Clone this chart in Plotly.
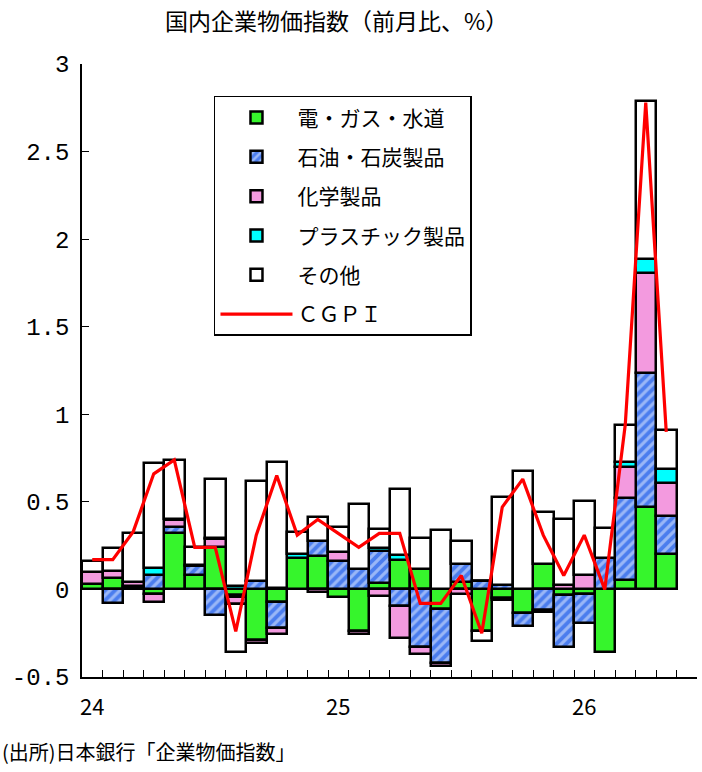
import plotly.graph_objects as go

months = [f"{y}-{m:02d}" for y in (2024, 2025, 2026) for m in range(1, 13)][:30]
tick_text = ["24" if m == "2024-01" else "25" if m == "2025-01" else "26" if m == "2026-01" else "" for m in months]

electric = [0.03, 0.065, 0.01, -0.025, 0.32, 0.08, 0.245, -0.03, -0.29, -0.07,
            0.177, 0.19, -0.045, -0.24, 0.034, 0.168, 0.118, -0.11, 0.04, -0.24,
            -0.05, -0.135, 0.145, -0.03, -0.025, -0.355, 0.054, 0.47, 0.204]
petroleum = [0.0, -0.08, 0.01, 0.085, 0.035, 0.055, -0.145, -0.015, 0.05, -0.15,
             0.0, 0.085, 0.16, 0.116, 0.186, -0.095, -0.33, -0.31, 0.107, 0.05,
             0.025, -0.075, -0.115, -0.30, -0.165, 0.18, 0.466, 0.765, 0.214]
chemical = [0.07, 0.04, 0.02, -0.045, 0.04, 0.005, 0.045, -0.04, -0.015, -0.035,
            0.0, -0.015, 0.055, -0.015, -0.035, -0.18, -0.04, -0.02, -0.025, 0.0,
            -0.01, 0.0, -0.015, 0.027, 0.084, 0.0, 0.177, 0.57, 0.188]
plastic = [0.0, 0.0, 0.005, 0.035, 0.01, 0.0, 0.005, 0.02, 0.0, 0.01,
           0.027, 0.0, 0.0, 0.0, 0.015, 0.03, 0.0, 0.0, 0.0, 0.0,
           0.0, 0.0, 0.0, 0.0, 0.0, 0.0, 0.029, 0.081, 0.084]
others = [0.06, 0.13, 0.28, 0.60, 0.335, 0.10, 0.335, -0.27, 0.57, 0.715,
          0.122, 0.14, 0.143, 0.37, 0.11, 0.378, 0.176, 0.338, 0.128, -0.055,
          0.505, 0.675, 0.295, 0.376, 0.42, 0.17, 0.214, 0.904, 0.218]
cgpi = [0.17, 0.17, 0.33, 0.66, 0.74, 0.24, 0.24, -0.24, 0.31, 0.65,
        0.31, 0.40, 0.32, 0.24, 0.32, 0.32, -0.08, -0.08, 0.08, -0.25,
        0.47, 0.63, 0.31, 0.08, 0.31, 0.0, 0.94, 2.78, 0.90]

names = ["電・ガス・水道", "石油・石炭製品", "化学製品", "プラスチック製品", "その他", "ＣＧＰＩ"]
x = months[:len(cgpi)]

CJK = "Noto Sans CJK JP"
fig = go.Figure()
line = dict(color="black", width=2.5)
fig.add_bar(x=x, y=electric, name=names[0], legendgroup="a", marker=dict(color="#36F52C", line=line))
fig.add_bar(x=x, y=petroleum, name=names[1], legendgroup="b",
            marker=dict(color="#4B7DEE", line=line,
                        pattern=dict(shape="/", bgcolor="#4B7DEE", fgcolor="#EAF1FF", size=7, solidity=0.45)))
fig.add_bar(x=x, y=chemical, name=names[2], legendgroup="c", marker=dict(color="#F39ADF", line=line))
fig.add_bar(x=x, y=plastic, name=names[3], legendgroup="d", marker=dict(color="#00FFFF", line=line))
fig.add_bar(x=x, y=others, name=names[4], legendgroup="e", marker=dict(color="#FFFFFF", line=line))
fig.add_scatter(x=x, y=cgpi, name=names[5], legendgroup="f", mode="lines",
                line=dict(color="#FF0000", width=3.2))

fig.update_layout(
    width=702, height=772,
    margin=dict(l=82, r=5, t=64, b=95),
    barmode="relative", bargap=0,
    paper_bgcolor="white", plot_bgcolor="white",
    font=dict(family=CJK, size=20, color="black"),
    showlegend=True,
    legend=dict(x=0.2146, y=0.948, xanchor="left", yanchor="top",
                bordercolor="black", borderwidth=1.5, bgcolor="white",
                font=dict(family=CJK, size=21), traceorder="grouped",
                tracegroupgap=9, itemwidth=72),
    xaxis=dict(type="category", categoryorder="array", categoryarray=months,
               range=[-0.5, 29.5], tickmode="array", tickvals=months, ticktext=tick_text,
               tickson="boundaries", ticks="inside", ticklen=7, tickcolor="black",
               tickangle=0,
               showline=True, linecolor="black", linewidth=1.5,
               showgrid=False, zeroline=False, ticklabelstandoff=10,
               tickfont=dict(family=CJK, size=22)),
    yaxis=dict(range=[-0.5, 3], tickmode="array",
               tickvals=[-0.5, 0, 0.5, 1, 1.5, 2, 2.5, 3],
               ticktext=["-0.5", "0", "0.5", "1", "1.5", "2", "2.5", "3"],
               ticks="inside", ticklen=7, tickcolor="black",
               showline=True, linecolor="black", linewidth=1.5,
               showgrid=False, zeroline=False, ticklabelstandoff=6,
               tickfont=dict(family="Liberation Mono", size=24)),
    annotations=[
        dict(text="国内企業物価指数（前月比、%）", xref="paper", yref="paper",
             x=0.4146, y=1.072, xanchor="center", yanchor="middle", showarrow=False,
             font=dict(family=CJK, size=23)),
        dict(text="(出所)日本銀行「企業物価指数」", xref="paper", yref="paper",
             x=-0.1333, y=-0.1223, xanchor="left", yanchor="middle", showarrow=False,
             font=dict(family=CJK, size=20)),
    ],
)

fig.write_html("out.html")
